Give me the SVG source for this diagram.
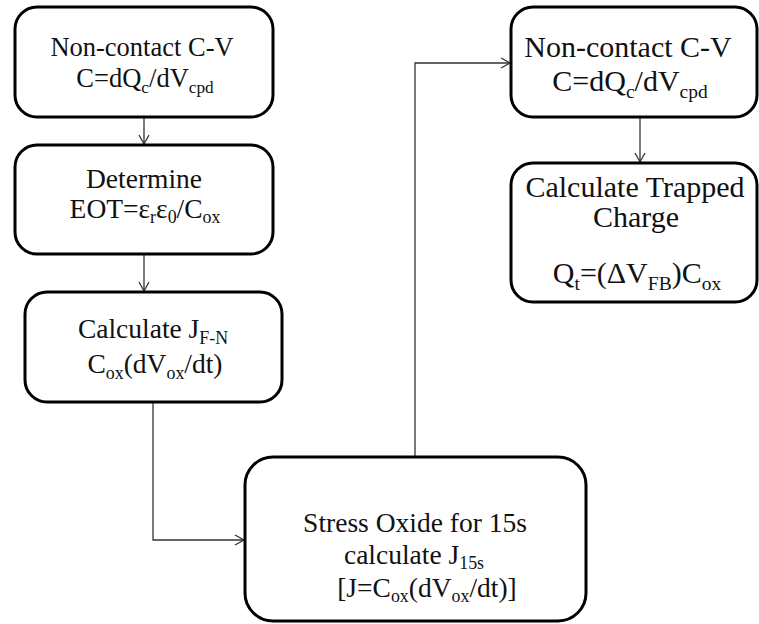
<svg xmlns="http://www.w3.org/2000/svg" width="759" height="624" viewBox="0 0 759 624">
<style>
.box{fill:#fff;stroke:#000;stroke-width:3}
text{font-family:'Liberation Serif','Times New Roman',serif;fill:#111;text-anchor:middle}
.f1{font-size:26.5px}
.f2{font-size:27.5px}
.f3{font-size:30px}
.s{font-size:0.65em}
.c{fill:none;stroke:#333;stroke-width:1.3}
</style>
<defs>
<marker id="ah" markerWidth="12" markerHeight="12" refX="10" refY="6" orient="auto" markerUnits="userSpaceOnUse">
<path d="M1,1 L10,6 L1,11" fill="none" stroke="#333" stroke-width="1.3"/>
</marker>
</defs>
<rect width="759" height="624" fill="#fff"/>
<g id="connectors">
<line class="c" x1="144" y1="117" x2="144" y2="144" marker-end="url(#ah)"/>
<line class="c" x1="144" y1="254" x2="144" y2="291" marker-end="url(#ah)"/>
<polyline class="c" points="153,402 153,540 244,540" marker-end="url(#ah)"/>
<polyline class="c" points="415,457 415,63 510,63" marker-end="url(#ah)"/>
<line class="c" x1="640" y1="117" x2="640" y2="162" marker-end="url(#ah)"/>
</g>
<g id="n1">
<rect class="box" x="15" y="7" width="258" height="110" rx="22"/>
<text class="f1" x="142" y="56">Non-contact C-V</text>
<text class="f1" x="145" y="87">C=dQ<tspan class="s" dy="6">c</tspan><tspan dy="-6">/dV</tspan><tspan class="s" dy="6">cpd</tspan></text>
</g>
<g id="n2">
<rect class="box" x="15" y="145" width="258" height="109" rx="22"/>
<text class="f2" x="144" y="188">Determine</text>
<text class="f2" x="145" y="218">EOT=ε<tspan class="s" dy="5">r</tspan><tspan dy="-5">ε</tspan><tspan class="s" dy="5">0</tspan><tspan dy="-5">/C</tspan><tspan class="s" dy="5">ox</tspan></text>
</g>
<g id="n3">
<rect class="box" x="25" y="292" width="257" height="110" rx="22"/>
<text class="f2" x="153" y="338">Calculate J<tspan class="s" dy="6">F-N</tspan></text>
<text class="f2" x="155" y="373">C<tspan class="s" dy="6">ox</tspan><tspan dy="-6">(dV</tspan><tspan class="s" dy="6">ox</tspan><tspan dy="-6">/dt)</tspan></text>
</g>
<g id="n4">
<rect class="box" x="245" y="457" width="341" height="164" rx="28"/>
<text class="f2" x="415" y="532">Stress Oxide for 15s</text>
<text class="f2" x="414" y="564">calculate J<tspan class="s" dy="5">15s</tspan></text>
<text class="f2" x="427" y="597">[J=C<tspan class="s" dy="5">ox</tspan><tspan dy="-5">(dV</tspan><tspan class="s" dy="5">ox</tspan><tspan dy="-5">/dt)]</tspan></text>
</g>
<g id="n5">
<rect class="box" x="511" y="7" width="246" height="110" rx="22"/>
<text class="f3" x="628" y="57">Non-contact C-V</text>
<text class="f3" x="630" y="91">C=dQ<tspan class="s" dy="7">c</tspan><tspan dy="-7">/dV</tspan><tspan class="s" dy="7">cpd</tspan></text>
</g>
<g id="n6">
<rect class="box" x="511" y="163" width="246" height="139" rx="22"/>
<text class="f3" x="635" y="197">Calculate Trapped</text>
<text class="f3" x="636" y="227">Charge</text>
<text class="f3" x="637" y="283">Q<tspan class="s" dy="7">t</tspan><tspan dy="-7">=(ΔV</tspan><tspan class="s" dy="7">FB</tspan><tspan dy="-7">)C</tspan><tspan class="s" dy="7">ox</tspan></text>
</g>
</svg>
